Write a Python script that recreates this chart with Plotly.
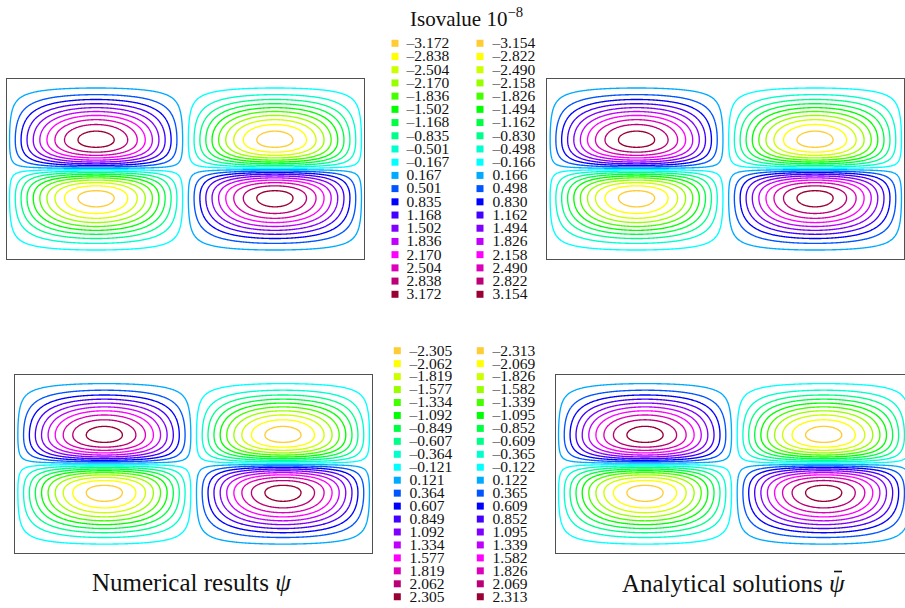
import numpy as np
import plotly.graph_objects as go

FIG_W, FIG_H = 905, 608

# ---------------- data ----------------
level_colors = ["#FFCC33", "#FFFF00", "#CCFF00", "#99FF00", "#44FF00",
                "#00FF00", "#00FF44", "#00FF88", "#00FFCC", "#00FFFF",
                "#00AAFF", "#0055FF", "#0000FF", "#4400FF", "#8000FF",
                "#C000FF", "#FF00FF", "#DD00BB", "#BB0077", "#990033"]

levels_num_top = [-3.172, -2.838, -2.504, -2.170, -1.836, -1.502, -1.168, -0.835, -0.501, -0.167,
                  0.167, 0.501, 0.835, 1.168, 1.502, 1.836, 2.170, 2.504, 2.838, 3.172]
levels_ana_top = [-3.154, -2.822, -2.490, -2.158, -1.826, -1.494, -1.162, -0.830, -0.498, -0.166,
                  0.166, 0.498, 0.830, 1.162, 1.494, 1.826, 2.158, 2.490, 2.822, 3.154]
levels_num_bot = [-2.305, -2.062, -1.819, -1.577, -1.334, -1.092, -0.849, -0.607, -0.364, -0.121,
                  0.121, 0.364, 0.607, 0.849, 1.092, 1.334, 1.577, 1.819, 2.062, 2.305]
levels_ana_bot = [-2.313, -2.069, -1.826, -1.582, -1.339, -1.095, -0.852, -0.609, -0.365, -0.122,
                  0.122, 0.365, 0.609, 0.852, 1.095, 1.339, 1.582, 1.826, 2.069, 2.313]

# peak |psi| of each field (x 1e-8)
peak_num_top = 3.339
peak_ana_top = 3.320
peak_num_bot = 2.426
peak_ana_bot = 2.435

title_text = "Isovalue 10<sup>−8</sup>"
caption_left = "Numerical results <i>ψ</i>"
caption_right = "Analytical solutions <i>ψ</i>"

# ---------------- field shape ----------------
xs = np.linspace(0.0, 2.0, 401)
ys = np.linspace(0.0, 1.0, 261)
XX, YY = np.meshgrid(xs, ys)
t_peak = 0.675
n_drop = 2.2


def profile(t):
    up = np.sin(np.pi * np.clip(t, 0, t_peak) / (2 * t_peak)) ** 2
    u = np.clip((t - t_peak) / (1 - t_peak), 0, 1)
    down = 1 - u ** n_drop
    return np.where(t <= t_peak, up, down)


tt = np.where(YY >= 0.5, (1.0 - YY) / 0.5, YY / 0.5)
sgn = np.where(YY >= 0.5, 1.0, -1.0)
shape = sgn * np.sin(np.pi * XX) * profile(tt)

colorscale = [[k / (len(level_colors) - 1), c] for k, c in enumerate(level_colors)]

fig = go.Figure()


def px_dom_x(a, b):
    return [a / FIG_W, min(b / FIG_W, 1.0)]


def px_dom_y(top, bottom):
    return [1 - bottom / FIG_H, 1 - top / FIG_H]


panels = [
    # (axis suffix, levels, peak, x0, x1, y0, y1)
    ("", levels_num_top, peak_num_top, 6.7, 364.3, 79.3, 258.7),
    ("2", levels_ana_top, peak_ana_top, 547.3, 904.3, 79.3, 258.7),
    ("3", levels_num_bot, peak_num_bot, 15.0, 372.3, 375.0, 552.7),
    ("4", levels_ana_bot, peak_ana_bot, 555.7, 913.0, 375.0, 552.7),
]

layout_axes = {}
for suf, lev, peak, x0, x1, y0, y1 in panels:
    nlev = len(lev)
    fig.add_trace(go.Contour(
        x=xs, y=ys, z=peak * shape,
        xaxis="x" + suf, yaxis="y" + suf,
        autocontour=False,
        contours=dict(start=lev[0], end=lev[-1], size=(lev[-1] - lev[0]) / (nlev - 1),
                      coloring="lines", showlabels=False),
        colorscale=colorscale, showscale=False,
        line=dict(width=1.35, smoothing=1.0),
        hoverinfo="skip",
    ))
    vis_right = min(x1, FIG_W)
    xmax = 2.0 * (vis_right - x0) / (x1 - x0)
    clipped = x1 > FIG_W
    layout_axes["xaxis" + suf] = dict(
        domain=px_dom_x(x0, vis_right), range=[0, xmax], anchor="y" + suf,
        showgrid=False, zeroline=False, showticklabels=False, ticks="",
        showline=True, mirror=True, linecolor="#505050", linewidth=1.2)
    layout_axes["yaxis" + suf] = dict(
        domain=px_dom_y(y0, y1), range=[0, 1], anchor="x" + suf,
        showgrid=False, zeroline=False, showticklabels=False, ticks="",
        showline=True, mirror=(False if clipped else True),
        linecolor="#505050", linewidth=1.2)

# ---------------- legends (overlay axis in pixel units) ----------------
legend_blocks = [
    # levels, first row y, row step, swatch x, text x
    (levels_num_top, 43.3, 13.21, 395.0, 406.5),
    (levels_ana_top, 43.3, 13.21, 480.0, 492.5),
    (levels_num_bot, 350.7, 12.95, 397.3, 409.5),
    (levels_ana_bot, 350.7, 12.95, 480.3, 492.5),
]
for lev, ystart, ystep, sx, tx in legend_blocks:
    rows = np.arange(len(lev))
    ry = ystart + rows * ystep
    fig.add_trace(go.Scatter(
        x=[sx] * len(lev), y=ry, xaxis="x5", yaxis="y5", mode="markers",
        marker=dict(symbol="square", size=7, color=level_colors, line=dict(width=0)),
        hoverinfo="skip", showlegend=False))
    labels = [f"{v:.3f}".replace("-", "–") for v in lev]
    fig.add_trace(go.Scatter(
        x=[tx] * len(lev), y=ry + 1.0, xaxis="x5", yaxis="y5", mode="text",
        text=labels, textposition="middle right",
        textfont=dict(family="Liberation Serif", size=15.5, color="#111111"),
        hoverinfo="skip", showlegend=False))

layout_axes["xaxis5"] = dict(domain=[0, 1], range=[0, FIG_W], visible=False, anchor="y5")
layout_axes["yaxis5"] = dict(domain=[0, 1], range=[FIG_H, 0], visible=False, anchor="x5")

fig.update_layout(
    width=FIG_W, height=FIG_H,
    margin=dict(l=0, r=0, t=0, b=0),
    paper_bgcolor="white", plot_bgcolor="rgba(0,0,0,0)",
    showlegend=False,
    font=dict(family="Liberation Serif", color="#111111"),
    annotations=[
        dict(text=title_text, x=467 / FIG_W, y=1 - 17 / FIG_H, xref="paper", yref="paper",
             xanchor="center", yanchor="middle", showarrow=False,
             font=dict(family="Liberation Serif", size=21, color="#111111")),
        dict(text=caption_left, x=191.7 / FIG_W, y=1 - 582 / FIG_H, xref="paper", yref="paper",
             xanchor="center", yanchor="middle", showarrow=False,
             font=dict(family="Liberation Serif", size=25, color="#111111")),
        dict(text=caption_right, x=733.5 / FIG_W, y=1 - 583 / FIG_H, xref="paper", yref="paper",
             xanchor="center", yanchor="middle", showarrow=False,
             font=dict(family="Liberation Serif", size=25, color="#111111")),
    ],
    shapes=[
        # bar accent over the psi of the analytical caption
        dict(type="line", xref="paper", yref="paper",
             x0=834 / FIG_W, x1=842 / FIG_W, y0=1 - 571.5 / FIG_H, y1=1 - 571.5 / FIG_H,
             line=dict(color="#111111", width=1.6)),
    ],
    **layout_axes,
)

fig.write_html("out.html")
